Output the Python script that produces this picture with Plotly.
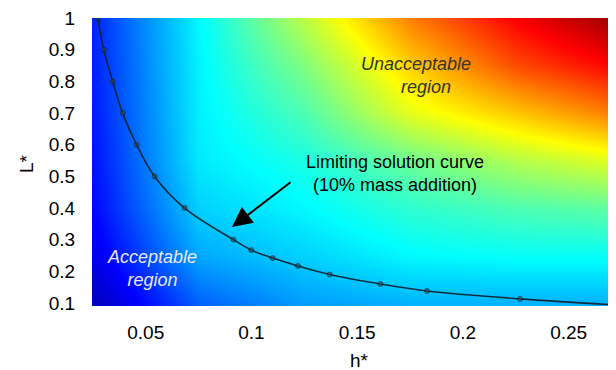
import plotly.graph_objects as go

# Background field (estimated colour-level values, 0..1 of jet scale)
grid_h = [0.025, 0.075, 0.125, 0.175, 0.225, 0.275]
grid_L = [0.1, 0.25, 0.4, 0.55, 0.7, 0.85, 1.0]
# columns follow grid_h, rows follow grid_L
field = [
    [0.05, 0.22, 0.28, 0.30, 0.30, 0.30],
    [0.10, 0.29, 0.33, 0.37, 0.38, 0.38],
    [0.13, 0.33, 0.37, 0.42, 0.45, 0.47],
    [0.14, 0.355, 0.40, 0.48, 0.55, 0.60],
    [0.15, 0.36, 0.45, 0.60, 0.68, 0.76],
    [0.155, 0.365, 0.50, 0.67, 0.80, 0.88],
    [0.16, 0.37, 0.56, 0.75, 0.88, 0.98],
]

# Limiting solution curve (10% mass addition)
curve_h = [0.0274, 0.0302, 0.0344, 0.0391, 0.0457, 0.0542, 0.0684, 0.0915,
           0.100, 0.110, 0.122, 0.137, 0.161, 0.183, 0.227, 0.2724]
curve_L = [1.0, 0.9, 0.8, 0.7, 0.6, 0.5, 0.4, 0.3,
           0.267, 0.242, 0.217, 0.19, 0.16, 0.138, 0.113, 0.094]

x_ticks = [0.05, 0.1, 0.15, 0.2, 0.25]
y_ticks = [0.1, 0.2, 0.3, 0.4, 0.5, 0.6, 0.7, 0.8, 0.9, 1]

jet = [
    [0.0, "rgb(0,0,143)"],
    [0.125, "rgb(0,0,255)"],
    [0.375, "rgb(0,255,255)"],
    [0.625, "rgb(255,255,0)"],
    [0.875, "rgb(255,0,0)"],
    [1.0, "rgb(128,0,0)"],
]

FONT = "Arial, Liberation Sans, sans-serif"

fig = go.Figure()
fig.add_trace(go.Heatmap(
    x=grid_h, y=grid_L, z=field, colorscale=jet, zmin=0, zmax=1,
    zsmooth="best", showscale=False, hoverinfo="skip",
))
marker_sizes = [5] * (len(curve_h) - 1) + [0]
fig.add_trace(go.Scatter(
    x=curve_h, y=curve_L, mode="lines+markers",
    line=dict(color="rgba(15,30,40,0.9)", width=1.6, shape="spline"),
    marker=dict(size=marker_sizes, color="rgba(40,70,80,0.9)",
                line=dict(color="rgba(15,30,40,0.9)", width=1)),
    showlegend=False, hoverinfo="skip",
))

fig.add_annotation(x=0.1778, y=0.818, xref="x", yref="y",
                   text="<i>Unacceptable</i><br><i>&nbsp;&nbsp;&nbsp;&nbsp;region</i>",
                   showarrow=False,
                   font=dict(family=FONT, size=18, color="#333333"), align="center")
fig.add_annotation(x=0.0530, y=0.209, xref="x", yref="y",
                   text="<i>Acceptable</i><br><i>region</i>", showarrow=False,
                   font=dict(family=FONT, size=18, color="#e8e8ff"), align="center")
fig.add_annotation(x=0.1679, y=0.509, xref="x", yref="y",
                   text="Limiting solution curve<br>(10% mass addition)", showarrow=False,
                   font=dict(family=FONT, size=18, color="black"), align="center")
fig.add_annotation(x=0.0908, y=0.340, ax=0.1192, ay=0.4853, xref="x", yref="y",
                   axref="x", ayref="y", text="", showarrow=True,
                   arrowhead=2, arrowsize=2.0, arrowwidth=2, arrowcolor="black")

# axis titles
fig.add_annotation(x=0.511, y=-0.1875, xref="paper", yref="paper", text="h*",
                   xanchor="center", yanchor="middle",
                   showarrow=False, font=dict(family=FONT, size=19, color="black"))
fig.add_annotation(x=-0.126, y=0.4965, xref="paper", yref="paper", text="L*",
                   xanchor="center", yanchor="middle",
                   textangle=-90, showarrow=False,
                   font=dict(family=FONT, size=19, color="black"))

# page body has an 8px default margin; size the figure to fit the 616x370 window
fig.update_layout(
    width=608, height=362,
    margin=dict(l=84, r=0, t=10, b=64, autoexpand=False),
    paper_bgcolor="white", plot_bgcolor="white",
    font=dict(family=FONT, size=19, color="black"),
    xaxis=dict(range=[0.0246, 0.2724], tickvals=x_ticks, ticktext=[str(v) for v in x_ticks],
               showgrid=False, zeroline=False, ticks="outside", ticklen=9,
               tickcolor="rgba(0,0,0,0)", automargin=False, ticklabeloverflow="allow"),
    yaxis=dict(range=[0.0905, 1.0005], tickvals=y_ticks, ticktext=[str(v) for v in y_ticks],
               showgrid=False, zeroline=False, ticks="outside", ticklen=12,
               tickcolor="rgba(0,0,0,0)", automargin=False, ticklabeloverflow="allow"),
)

fig.write_html("out.html")
